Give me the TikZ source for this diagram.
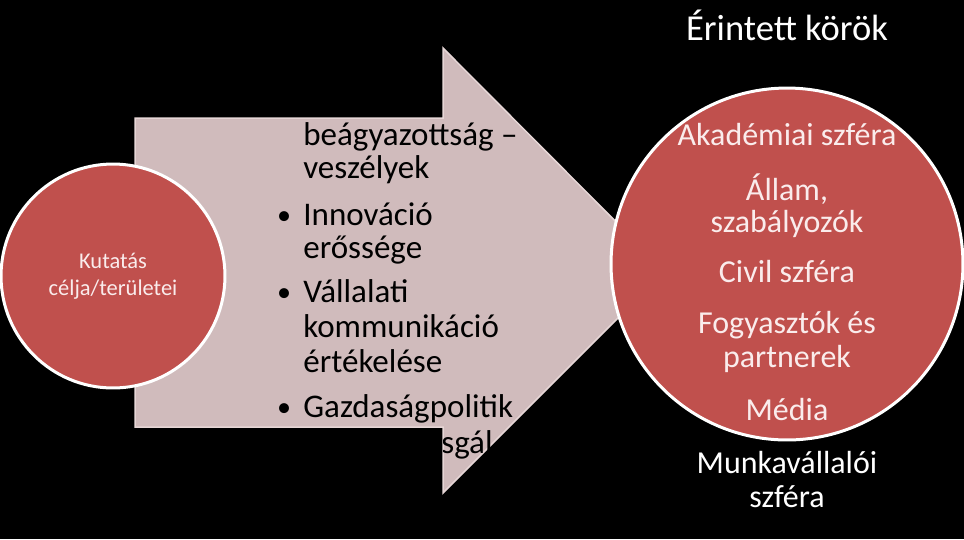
\documentclass[tikz,border=0pt]{standalone}
\usepackage{fontspec}
\setmainfont{Carlito}
\usepackage{tikz}
\usepackage{xcolor}
\usetikzlibrary{positioning}

\definecolor{korred}{RGB}{192,80,77}
\definecolor{arrowpink}{RGB}{208,187,188}
\definecolor{arrowrim}{RGB}{230,214,214}
\definecolor{paletext}{RGB}{250,236,236}

\tikzset{
  korkor/.style={circle,fill=korred,draw=white,line width=0.06cm,inner sep=0pt},
  kortext/.style={anchor=base,text=paletext,inner sep=0pt,font=\fontsize{18.2}{19.5}\selectfont},
  listtext/.style={anchor=base west,text=black,inner sep=0pt,font=\fontsize{18.8}{20}\selectfont},
  listbullet/.style={anchor=base,text=black,inner sep=0pt,font=\fontsize{16}{20}\selectfont}
}

\begin{document}
\begin{tikzpicture}[x=0.02cm,y=-0.02cm]
\fill[black](0,0) rectangle (964,539);
\useasboundingbox (0,0) rectangle (964,539);
% big arrow
\fill[arrowpink,draw=arrowrim,line width=0.03cm](135,118) -- (443,118) -- (443,48) -- (665,271) -- (443,493) -- (443,427) -- (135,427) -- cycle;
% list in the arrow, cut to its outline
\begin{scope}
\clip (135,118) -- (443,118) -- (443,48) -- (665,271) -- (443,493) -- (443,427) -- (135,427) -- cycle;
\node[listtext] (beagy) at (303,145) {beágyazottság –};
\node[listtext] (vesz) at (303,178) {veszélyek};
\node[listbullet] (dot1) at (284,224) {•};
\node[listtext] (innov) at (303,225) {Innováció};
\node[listtext] (eross) at (303,258) {erőssége};
\node[listbullet] (dot2) at (284,301) {•};
\node[listtext] (vall) at (303,302) {Vállalati};
\node[listtext] (komm) at (303,337) {kommunikáció};
\node[listtext] (ertek) at (303,372) {értékelése};
\node[listbullet] (dot3) at (284,416) {•};
\node[listtext] (gazd) at (303,417) {Gazdaságpolitik};
\node[listtext] (vizsg) at (441,453) {sgál};
\end{scope}
% left circle
\node[korkor,minimum size=4.48cm,align=center,text=paletext,font=\fontsize{12.8}{15.4}\selectfont] (kutatas) at (113,276) {Kutatás\\célja/területei};
% right circle
\node[korkor,minimum size=7.04cm] (korok) at (787,264) {};
\node[kortext,text=white,font=\fontsize{20.8}{22}\selectfont] (cim) at (787,40) {Érintett körök};
\node[kortext] (akad) at (787,145) {Akadémiai szféra};
\node[kortext] (allam) at (787,200) {Állam,};
\node[kortext] (szab) at (787,232) {szabályozók};
\node[kortext] (civil) at (787,282) {Civil szféra};
\node[kortext] (fogy) at (787,333) {Fogyasztók és};
\node[kortext] (partn) at (787,367) {partnerek};
\node[kortext] (media) at (787,420) {Média};
\node[kortext,text=white] (munka) at (787,473) {Munkavállalói};
\node[kortext,text=white] (szfera) at (787,507) {szféra};
\end{tikzpicture}
\end{document}
